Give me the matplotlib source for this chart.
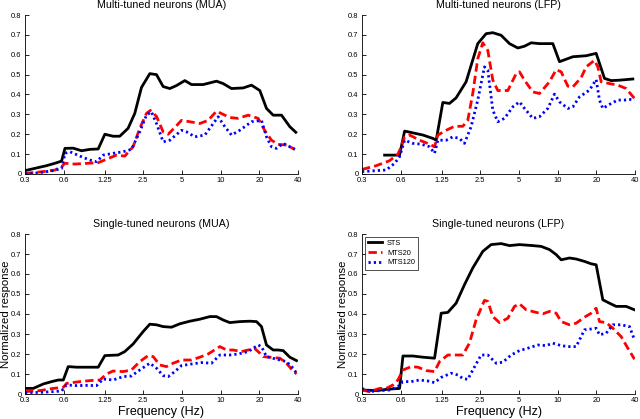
import matplotlib
matplotlib.use("Agg")
import matplotlib.pyplot as plt
from matplotlib.ticker import FixedLocator, NullLocator

plt.rcParams['font.family'] = ['Liberation Sans', 'DejaVu Sans']

# ---------------- data ----------------
xticks = [0.3, 0.6, 1.25, 2.5, 5, 10, 20, 40]
xticklabels = ["0.3", "0.6", "1.25", "2.5", "5", "10", "20", "40"]
yticks = [0, 0.1, 0.2, 0.3, 0.4, 0.5, 0.6, 0.7, 0.8]
yticklabels = ["0", "0.1", "0.2", "0.3", "0.4", "0.5", "0.6", "0.7", "0.8"]
series_names = ["STS", "MTS20", "MTS120"]
titles = ["Multi-tuned neurons (MUA)", "Multi-tuned neurons (LFP)",
          "Single-tuned neurons (MUA)", "Single-tuned neurons (LFP)"]

# Multi-tuned MUA
mm_sts_f = [0.300, 0.442, 0.513, 0.578, 0.614, 0.712, 0.827, 0.960, 1.114, 1.255, 1.456, 1.640, 1.904, 2.146,
            2.418, 2.809, 3.166, 3.568, 4.021, 4.532, 5.263, 5.931, 7.310, 9.282, 10.46, 12.15, 14.97, 17.38,
            20.18, 22.74, 25.63, 29.76, 34.55, 38.47]
mm_sts_v = [0.017, 0.042, 0.054, 0.065, 0.129, 0.130, 0.117, 0.124, 0.126, 0.200, 0.190, 0.190, 0.230, 0.305,
            0.435, 0.505, 0.500, 0.440, 0.430, 0.445, 0.470, 0.450, 0.450, 0.467, 0.455, 0.430, 0.433, 0.447,
            0.420, 0.330, 0.296, 0.296, 0.238, 0.210]
mm_m20_f = [0.300, 0.416, 0.513, 0.578, 0.614, 0.734, 0.932, 1.114, 1.293, 1.545, 1.793, 2.082, 2.347, 2.646,
            2.840, 3.166, 3.568, 3.902, 4.399, 4.957, 5.756, 6.886, 7.995, 9.282, 10.46, 11.79, 13.69, 16.37,
            19.58, 22.07, 24.87, 28.03, 32.55, 37.79]
mm_m20_v = [0.003, 0.012, 0.020, 0.037, 0.054, 0.050, 0.054, 0.057, 0.074, 0.095, 0.090, 0.137, 0.230, 0.305,
            0.320, 0.290, 0.212, 0.200, 0.234, 0.270, 0.263, 0.254, 0.270, 0.316, 0.300, 0.284, 0.280, 0.296,
            0.280, 0.218, 0.170, 0.149, 0.146, 0.124]
mm_m120_f = [0.300, 0.392, 0.498, 0.578, 0.614, 0.671, 0.803, 0.960, 1.082, 1.218, 1.456, 1.741, 2.021, 2.347,
             2.646, 2.894, 3.166, 3.568, 4.021, 4.957, 5.422, 6.296, 7.532, 9.563, 10.78, 12.15, 14.10, 17.38,
             20.79, 22.74, 24.87, 27.20, 30.66, 34.55, 37.79]
mm_m120_v = [0.000, 0.007, 0.017, 0.028, 0.104, 0.112, 0.090, 0.070, 0.062, 0.095, 0.104, 0.112, 0.124, 0.213,
             0.296, 0.313, 0.254, 0.162, 0.170, 0.220, 0.212, 0.187, 0.196, 0.288, 0.238, 0.196, 0.220, 0.263,
             0.270, 0.187, 0.137, 0.129, 0.154, 0.137, 0.124]

# Multi-tuned LFP
ml_sts_f = [0.450, 0.588, 0.644, 0.747, 0.894, 1.069, 1.134, 1.277, 1.439, 1.620, 1.938, 2.389, 2.775, 3.128,
            3.632, 4.218, 4.898, 5.520, 6.221, 7.223, 9.171, 10.34, 13.13, 16.67, 19.94, 23.15, 26.09, 30.30,
            38.47]
ml_sts_v = [0.095, 0.095, 0.216, 0.207, 0.196, 0.179, 0.170, 0.360, 0.355, 0.383, 0.464, 0.656, 0.706, 0.711,
            0.698, 0.656, 0.634, 0.643, 0.660, 0.656, 0.656, 0.565, 0.590, 0.595, 0.607, 0.481, 0.470, 0.472,
            0.478]
ml_m20_f = [0.300, 0.388, 0.492, 0.571, 0.606, 0.644, 0.704, 0.842, 1.007, 1.101, 1.168, 1.356, 1.573, 1.826,
            1.997, 2.184, 2.389, 2.614, 2.860, 3.128, 3.422, 4.094, 4.754, 5.046, 5.520, 6.410, 7.223, 8.640,
            9.736, 10.65, 12.00, 13.13, 15.24, 16.67, 19.35, 20.54, 21.81, 25.32, 29.40, 34.14, 39.64]
ml_m20_v = [0.023, 0.042, 0.067, 0.100, 0.137, 0.187, 0.196, 0.170, 0.150, 0.137, 0.196, 0.220, 0.240, 0.240,
            0.270, 0.405, 0.580, 0.660, 0.622, 0.472, 0.420, 0.420, 0.505, 0.514, 0.472, 0.413, 0.405, 0.464,
            0.525, 0.514, 0.442, 0.438, 0.485, 0.539, 0.572, 0.539, 0.464, 0.455, 0.447, 0.430, 0.380]
ml_m120_f = [0.300, 0.388, 0.463, 0.539, 0.588, 0.644, 0.747, 0.868, 1.007, 1.101, 1.168, 1.356, 1.527, 1.720,
             1.881, 2.120, 2.389, 2.693, 2.860, 3.128, 3.422, 3.856, 4.478, 5.046, 5.520, 6.410, 7.223, 8.386,
             9.450, 10.34, 12.00, 13.13, 14.79, 17.69, 19.94, 21.17, 22.47, 26.09, 29.40, 33.14, 37.34, 39.64]
ml_m120_v = [0.012, 0.017, 0.020, 0.054, 0.087, 0.170, 0.154, 0.150, 0.137, 0.104, 0.170, 0.170, 0.187, 0.179,
             0.154, 0.238, 0.372, 0.539, 0.522, 0.321, 0.263, 0.280, 0.338, 0.363, 0.330, 0.280, 0.288, 0.330,
             0.402, 0.363, 0.330, 0.338, 0.388, 0.422, 0.475, 0.372, 0.330, 0.355, 0.372, 0.372, 0.375, 0.372]

# Single-tuned MUA
sm_sts_f = [0.300, 0.348, 0.416, 0.484, 0.545, 0.596, 0.651, 0.756, 0.904, 1.114, 1.255, 1.592, 1.793, 2.082,
            2.492, 2.809, 3.166, 3.568, 4.143, 4.811, 5.756, 6.886, 8.237, 9.282, 10.46, 11.79, 14.10, 16.87,
            19.01, 20.79, 22.74, 25.63, 28.03, 30.66, 34.55, 38.93]
sm_sts_v = [0.028, 0.028, 0.050, 0.062, 0.070, 0.070, 0.137, 0.134, 0.134, 0.134, 0.192, 0.195, 0.212, 0.250,
            0.312, 0.349, 0.346, 0.337, 0.334, 0.351, 0.364, 0.374, 0.387, 0.387, 0.370, 0.357, 0.362, 0.364,
            0.362, 0.337, 0.245, 0.220, 0.220, 0.217, 0.184, 0.167]
sm_m20_f = [0.300, 0.392, 0.498, 0.596, 0.632, 0.803, 0.960, 1.148, 1.293, 1.456, 1.741, 2.021, 2.347, 2.726,
            2.982, 3.361, 3.788, 4.269, 4.957, 5.931, 6.886, 7.995, 9.853, 11.11, 12.51, 14.53, 16.37, 18.45,
            20.18, 21.42, 24.14, 28.88, 32.55, 35.60, 38.93]
sm_m20_v = [0.012, 0.017, 0.028, 0.033, 0.053, 0.062, 0.067, 0.070, 0.100, 0.115, 0.112, 0.120, 0.162, 0.192,
            0.187, 0.145, 0.137, 0.154, 0.170, 0.170, 0.184, 0.200, 0.237, 0.220, 0.220, 0.212, 0.220, 0.227,
            0.204, 0.187, 0.184, 0.179, 0.154, 0.124, 0.100]
sm_m120_f = [0.300, 0.392, 0.498, 0.578, 0.632, 0.756, 0.904, 1.082, 1.218, 1.456, 1.741, 2.021, 2.347, 2.809,
             3.166, 3.568, 3.902, 4.399, 4.957, 5.931, 7.095, 8.487, 9.853, 11.79, 13.69, 16.37, 19.58, 20.79,
             22.74, 27.20, 32.55, 36.68, 38.93]
sm_m120_v = [0.007, 0.008, 0.012, 0.015, 0.045, 0.042, 0.043, 0.042, 0.075, 0.070, 0.087, 0.090, 0.120, 0.154,
             0.129, 0.092, 0.087, 0.112, 0.142, 0.150, 0.157, 0.154, 0.195, 0.195, 0.200, 0.212, 0.245, 0.237,
             0.187, 0.174, 0.162, 0.129, 0.104]

# Single-tuned LFP
sl_sts_f = [0.300, 0.388, 0.463, 0.588, 0.625, 0.747, 0.894, 1.101, 1.240, 1.397, 1.620, 1.881, 2.184, 2.614,
            3.036, 3.632, 4.218, 5.046, 6.410, 7.442, 8.640, 9.736, 10.65, 12.37, 13.93, 16.18, 18.23, 19.94,
            22.47, 25.32, 28.54, 34.14, 39.64]
sl_sts_v = [0.020, 0.017, 0.023, 0.028, 0.190, 0.190, 0.184, 0.179, 0.404, 0.408, 0.454, 0.546, 0.630, 0.713,
            0.747, 0.752, 0.742, 0.747, 0.742, 0.738, 0.722, 0.697, 0.671, 0.680, 0.675, 0.663, 0.651, 0.646,
            0.471, 0.454, 0.438, 0.438, 0.421]
sl_m20_f = [0.300, 0.344, 0.411, 0.463, 0.522, 0.571, 0.625, 0.725, 0.818, 0.949, 1.101, 1.204, 1.397, 1.573,
            1.826, 2.057, 2.319, 2.693, 2.860, 3.128, 3.525, 4.094, 4.614, 5.046, 5.688, 6.804, 7.668, 8.640,
            9.736, 10.65, 12.37, 13.93, 16.18, 18.23, 19.94, 21.17, 23.86, 26.88, 31.21, 35.18, 39.64]
sl_m20_v = [0.020, 0.012, 0.028, 0.028, 0.045, 0.070, 0.120, 0.137, 0.134, 0.117, 0.112, 0.162, 0.195, 0.195,
            0.195, 0.254, 0.371, 0.468, 0.463, 0.387, 0.357, 0.379, 0.438, 0.451, 0.421, 0.408, 0.401, 0.413,
            0.404, 0.362, 0.346, 0.354, 0.384, 0.404, 0.429, 0.362, 0.357, 0.329, 0.287, 0.229, 0.174]
sl_m120_f = [0.300, 0.344, 0.411, 0.492, 0.571, 0.625, 0.725, 0.842, 0.977, 1.101, 1.240, 1.482, 1.670, 1.826,
             1.997, 2.184, 2.537, 2.860, 3.321, 3.742, 4.346, 5.046, 5.860, 7.011, 8.139, 9.171, 10.65, 12.00,
             13.93, 16.18, 17.69, 19.94, 21.17, 23.86, 26.88, 31.21, 36.24, 39.64]
sl_m120_v = [0.028, 0.012, 0.017, 0.020, 0.037, 0.062, 0.062, 0.070, 0.065, 0.057, 0.083, 0.104, 0.095, 0.078,
             0.073, 0.120, 0.195, 0.195, 0.154, 0.159, 0.195, 0.217, 0.229, 0.245, 0.242, 0.254, 0.242, 0.237,
             0.237, 0.321, 0.324, 0.329, 0.296, 0.304, 0.346, 0.346, 0.337, 0.271]

panels = [
    [(mm_sts_f, mm_sts_v), (mm_m20_f, mm_m20_v), (mm_m120_f, mm_m120_v)],
    [(ml_sts_f, ml_sts_v), (ml_m20_f, ml_m20_v), (ml_m120_f, ml_m120_v)],
    [(sm_sts_f, sm_sts_v), (sm_m20_f, sm_m20_v), (sm_m120_f, sm_m120_v)],
    [(sl_sts_f, sl_sts_v), (sl_m20_f, sl_m20_v), (sl_m120_f, sl_m120_v)],
]

# ---------------- style ----------------
styles = [
    dict(color="black", linestyle="-"),
    dict(color="red", linestyle=(0, (3.0, 1.5))),
    dict(color="blue", linestyle=(0, (0.8, 1.1))),
]
LW = 2.0

fig = plt.figure(figsize=(6.4, 4.19), dpi=100)
W, H = 640.0, 419.0
rects = [
    (25, 15, 298, 174),
    (362, 15, 635, 174),
    (25, 234, 298, 394),
    (362, 234, 635, 394),
]

for i, (x0, y0, x1, y1) in enumerate(rects):
    ax = fig.add_axes([x0 / W, 1 - y1 / H, (x1 - x0) / W, (y1 - y0) / H])
    for (f, v), st, name in zip(panels[i], styles, series_names):
        ax.plot(f, v, lw=LW, label=name, **st)
    ax.set_xscale("log")
    ax.set_xlim(0.3, 40)
    ax.set_ylim(0, 0.8)
    ax.xaxis.set_major_locator(FixedLocator(xticks))
    ax.xaxis.set_minor_locator(NullLocator())
    ax.set_xticklabels(xticklabels)
    ax.set_yticks(yticks)
    ax.set_yticklabels(yticklabels)
    ax.tick_params(direction="in", length=3, width=0.6, labelsize=5.4, pad=2.5)
    for s in ("top", "right"):
        ax.spines[s].set_visible(False)
    for s in ("left", "bottom"):
        ax.spines[s].set_linewidth(0.6)
    ax.set_title(titles[i], fontsize=7.7, pad=5)
    if i >= 2:
        ax.set_xlabel("Frequency (Hz)", fontsize=9, labelpad=1)
        ax.set_ylabel("Normalized response", fontsize=8.2)
        ax.yaxis.set_label_coords(-0.052, 0.5)
    if i == 3:
        leg = ax.legend(loc="upper left", fontsize=5.3, frameon=True, fancybox=False,
                        borderaxespad=0.35, handlelength=1.9, handletextpad=0.7,
                        borderpad=0.45, labelspacing=0.35)
        leg.get_frame().set_edgecolor("black")
        leg.get_frame().set_linewidth(0.6)

fig.savefig("out.png", dpi=100)
